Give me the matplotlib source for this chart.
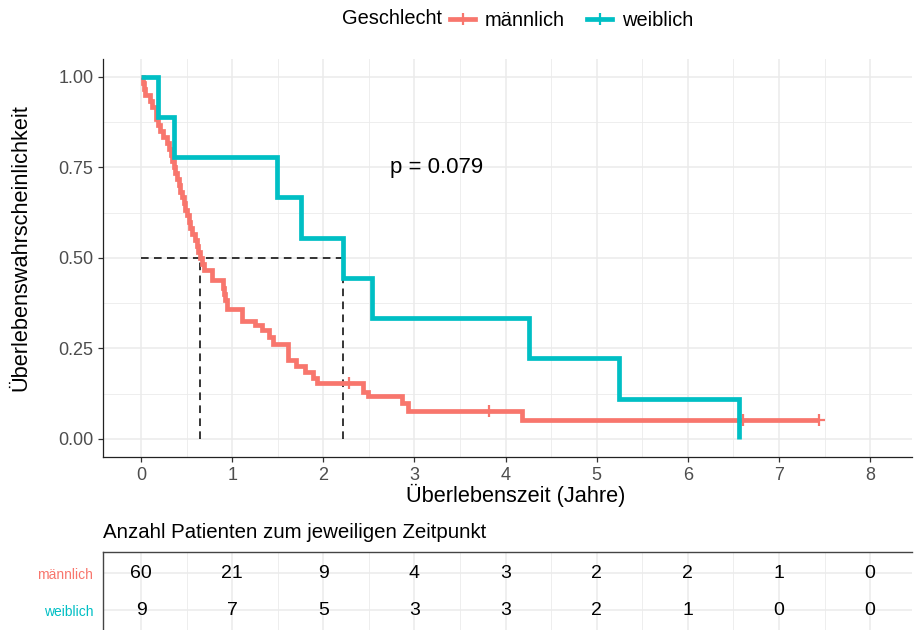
import numpy as np
import matplotlib
matplotlib.use("Agg")
import matplotlib.pyplot as plt
from matplotlib.lines import Line2D
from matplotlib.ticker import MultipleLocator

plt.rcParams['font.family'] = ['Liberation Sans', 'DejaVu Sans']

# Kaplan-Meier steps
times_m = [0, 0.02, 0.03, 0.04, 0.10, 0.12, 0.17, 0.19, 0.21, 0.24, 0.29, 0.31, 0.33,
           0.34, 0.36, 0.37, 0.40, 0.42, 0.43, 0.45, 0.47, 0.48, 0.51, 0.53, 0.54,
           0.56, 0.59, 0.61, 0.63, 0.65, 0.67, 0.69, 0.78, 0.90, 0.91, 0.92, 0.94,
           1.11, 1.25, 1.33, 1.40, 1.45, 1.61, 1.70, 1.80, 1.89, 1.93, 2.44, 2.49,
           2.86, 2.93, 4.18]
surv_m = [1.0, 0.983, 0.967, 0.95, 0.933, 0.917, 0.883, 0.867, 0.85, 0.833, 0.817, 0.80,
          0.783, 0.767, 0.75, 0.733, 0.717, 0.70, 0.683, 0.667, 0.65, 0.633, 0.617,
          0.60, 0.583, 0.567, 0.55, 0.533, 0.517, 0.50, 0.483, 0.467, 0.44, 0.417,
          0.40, 0.383, 0.36, 0.326, 0.315, 0.30, 0.282, 0.262, 0.218, 0.20, 0.185,
          0.168, 0.153, 0.13, 0.118, 0.10, 0.077, 0.052]
end_m = 7.44
censor_m = [2.28, 3.82, 6.61, 7.44]

times_f = [0, 0.19, 0.36, 1.49, 1.76, 2.22, 2.53, 4.26, 5.24, 6.56]
surv_f = [1.0, 0.889, 0.778, 0.667, 0.556, 0.444, 0.333, 0.222, 0.111, 0.0]

groups = ['männlich', 'weiblich']
colors = ['#F8766D', '#00BFC4']

risk_times = [0, 1, 2, 3, 4, 5, 6, 7, 8]
risk_m = [60, 21, 9, 4, 3, 2, 2, 1, 0]
risk_f = [9, 7, 5, 3, 3, 2, 1, 0, 0]

p_text = 'p = 0.079'


def surv_at(t, times, surv):
    i = np.searchsorted(times, t, side='right') - 1
    return surv[i]


def median(times, surv):
    for t, s in zip(times, surv):
        if s <= 0.5:
            return t
    return None


fig = plt.figure(figsize=(9.16, 6.3), dpi=100)
ax = fig.add_axes([103 / 916, 1 - 457 / 630, 809 / 916, (457 - 58.6) / 630])
xlim = (-0.417, 8.46)

grid_c = '#EBEBEB'
ax.set_xlim(*xlim)
ax.set_ylim(-0.05, 1.05)
ax.xaxis.set_major_locator(MultipleLocator(1))
ax.xaxis.set_minor_locator(MultipleLocator(0.5))
ax.yaxis.set_major_locator(MultipleLocator(0.25))
ax.yaxis.set_minor_locator(MultipleLocator(0.125))
ax.grid(which='major', color=grid_c, lw=1.1)
ax.grid(which='minor', color=grid_c, lw=0.6)
ax.set_axisbelow(True)
for side in ['top', 'right']:
    ax.spines[side].set_visible(False)
for side in ['left', 'bottom']:
    ax.spines[side].set_color('#222222')
    ax.spines[side].set_linewidth(0.9)
ax.tick_params(which='major', length=3.5, width=0.9, color='#333333',
               labelsize=13, labelcolor='#4D4D4D')
ax.tick_params(which='minor', length=0)
ax.set_yticks([0, 0.25, 0.5, 0.75, 1.0])
ax.set_yticklabels(['0.00', '0.25', '0.50', '0.75', '1.00'])

# median lines
med_m = median(times_m, surv_m)
med_f = median(times_f, surv_f)
ax.plot([0, max(med_m, med_f)], [0.5, 0.5], color='black', lw=1.1, ls=(0, (5, 3.5)), zorder=2)
for m in [med_m, med_f]:
    ax.plot([m, m], [0, 0.5], color='black', lw=1.1, ls=(0, (5, 3.5)), zorder=2)

# curves
ax.step(times_m + [end_m], surv_m + [surv_m[-1]], where='post', color=colors[0],
        lw=3.4, solid_joinstyle='miter', solid_capstyle='butt', zorder=3)
ax.plot(censor_m, [surv_at(t, times_m, surv_m) for t in censor_m], ls='none',
        marker='+', ms=9, mew=1.6, color=colors[0], zorder=3)
ax.step(times_f, surv_f, where='post', color=colors[1], lw=3.4,
        solid_joinstyle='miter', solid_capstyle='butt', zorder=4)

ax.text(2.73, 0.75, p_text, fontsize=16, ha='left', va='center')

ax.set_xlabel('Überlebenszeit (Jahre)', fontsize=15.7)
ax.xaxis.set_label_coords(0.51, -0.068)
ax.set_ylabel('Überlebenswahrscheinlichkeit', fontsize=15.7)
ax.yaxis.set_label_coords(-0.088, 0.525)

# legend
fig.text(342 / 916, 1 - 19 / 630, 'Geschlecht', fontsize=14.4, ha='left', va='center')
handles = [Line2D([], [], color=c, lw=3.4, marker='+', ms=9, mew=1.6) for c in colors]
fig.legend(handles, groups, loc='center left', bbox_to_anchor=(450 / 916, 1 - 20 / 630),
           ncol=2, frameon=False, fontsize=14.4, handlelength=1.25, handletextpad=0.5,
           columnspacing=1.1, borderpad=0, borderaxespad=0)

# risk table
tax = fig.add_axes([103 / 916, 0, 809 / 916, 78 / 630])
tax.set_xlim(*xlim)
tax.set_ylim(0.46, 2.57)
tax.xaxis.set_major_locator(MultipleLocator(1))
tax.xaxis.set_minor_locator(MultipleLocator(0.5))
tax.set_yticks([2, 1])
tax.set_yticklabels(groups)
for lab, c in zip(tax.get_yticklabels(), colors):
    lab.set_color(c)
tax.grid(which='major', color=grid_c, lw=1.1)
tax.grid(which='minor', axis='x', color=grid_c, lw=0.6)
tax.set_axisbelow(True)
tax.tick_params(axis='x', which='both', length=0, labelbottom=False)
tax.tick_params(axis='y', length=0, labelsize=10, pad=7)
for side in ['bottom', 'right']:
    tax.spines[side].set_visible(False)
for side in ['top', 'left']:
    tax.spines[side].set_color('#444444')
    tax.spines[side].set_linewidth(1.0)
for t, vm, vf in zip(risk_times, risk_m, risk_f):
    tax.text(t, 2, str(vm), ha='center', va='center', fontsize=14)
    tax.text(t, 1, str(vf), ha='center', va='center', fontsize=14)

fig.text(103 / 916, 1 - 532 / 630, 'Anzahl Patienten zum jeweiligen Zeitpunkt',
         fontsize=14.7, ha='left', va='center')

fig.savefig('out.png', dpi=100)
